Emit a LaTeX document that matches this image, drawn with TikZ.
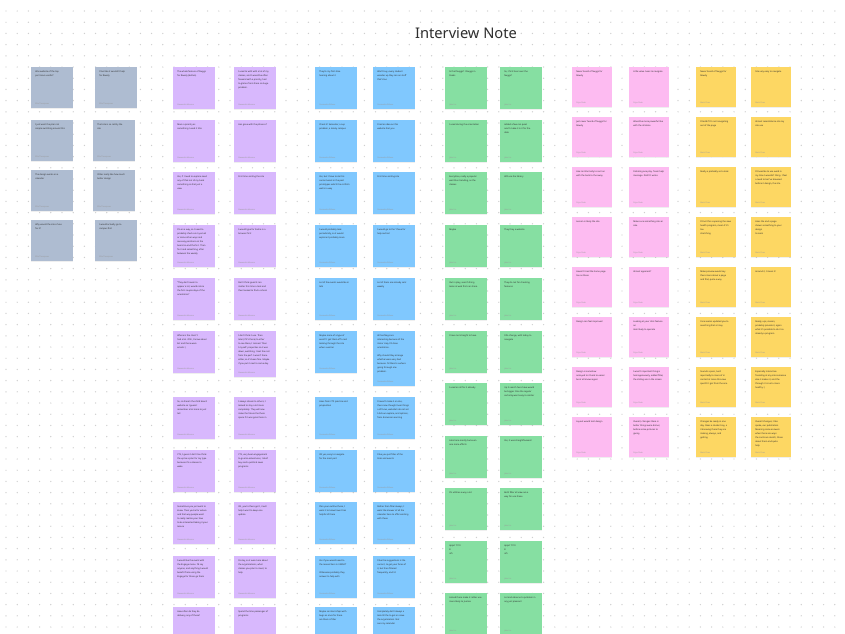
\documentclass[tikz,border=0pt]{standalone}
\usepackage{fontspec}
\setmainfont{Noto Sans}
\usetikzlibrary{shadows}

\definecolor{notegray}{HTML}{AEBCD1}
\definecolor{notepurple}{HTML}{D8B8FD}
\definecolor{noteblue}{HTML}{80C8FE}
\definecolor{notegreen}{HTML}{86DFA2}
\definecolor{notepink}{HTML}{FDBBF1}
\definecolor{noteyellow}{HTML}{FDD763}
\definecolor{dotgray}{HTML}{CFCFCF}
\definecolor{inktext}{HTML}{2E2E2E}

\newlength\pxu
\setlength\pxu{0.75pt}
\def\notewpx{42}

\tikzset{
  note/.style={rectangle, inner xsep=3pt, inner ysep=2.5pt, anchor=north west,
    drop shadow={shadow xshift=0pt, shadow yshift=-0.5pt, opacity=0.12}},
  graynote/.style={note, fill=notegray},
  purplenote/.style={note, fill=notepurple},
  bluenote/.style={note, fill=noteblue},
  greennote/.style={note, fill=notegreen},
  pinknote/.style={note, fill=notepink},
  yellownote/.style={note, fill=noteyellow},
  griddot/.style={fill=dotgray},
  boardtitle/.style={font=\fontsize{11}{13}\selectfont, text=inktext, inner sep=0pt},
}

% sticky note: [height px]{name}{style}{x,y}{text}{author}
\newcommand{\stickynote}[6][42]{%
  \node[#3] (#2) at (#4) {\begin{minipage}[t][\dimexpr #1\pxu-5pt\relax][t]{\dimexpr\notewpx\pxu-6pt\relax}%
    \raggedright\fontsize{1.65}{3}\selectfont\color{inktext}#5\par\vfill
    {\fontsize{1.45}{2}\selectfont\color{black!40}#6\par}\end{minipage}};%
}

\begin{document}
\begin{tikzpicture}[x=0.75pt,y=0.75pt,yscale=-1,xscale=1]
\useasboundingbox (0,0) rectangle (845,633);
\fill[white] (0,0) rectangle (845,633);

% dot grid
\foreach \gx in {0,...,75}{
  \foreach \gy in {0,...,56}{
    \fill[griddot] (6+11.2*\gx,11+11.2*\gy) circle[radius=0.7];
  }
}

% Title
\node[boardtitle] (title) at (466,33) {Interview Note};

% Gray notes
\stickynote[41]{g1}{graynote}{31,67}{Was website of the top\\part more useful?}{Ellie Thompson}
\stickynote[41]{g2}{graynote}{95,67}{I feel like it wouldn't help\\for Rowdy}{Ellie Thompson}
\stickynote[41]{g3}{graynote}{31,120}{I just want the plan not\\simple switching around this}{Ellie Thompson}
\stickynote[41]{g4}{graynote}{93,120}{That site is so catchy the\\site}{Ellie Thompson}
\stickynote[41]{g5}{graynote}{31,170}{The design works on a\\calendar}{Ellie Thompson}
\stickynote[41]{g6}{graynote}{93,170}{Other really like how much\\better design}{Ellie Thompson}
\stickynote[41]{g7}{graynote}{31,220}{Why would the site of use\\for it?}{Ellie Thompson}
\stickynote[41]{g8}{graynote}{95,220}{I would actually go to\\campus first}{Ellie Thompson}

% Purple notes
\stickynote{p1}{purplenote}{173,67}{The whole feature of Nuggs\\for Rowdy (before)}{Alexandra Moreno}
\stickynote{p2}{purplenote}{234,67}{I used to with with a lot of my\\classes, and I would be often\\forward with a priority, had\\to glance from there so huge\\problem.}{Alexandra Moreno}
\stickynote{p3}{purplenote}{173,120}{More a priority as\\something I used it title}{Alexandra Moreno}
\stickynote{p4}{purplenote}{234,120}{Has gone with the phase of}{Alexandra Moreno}
\stickynote{p5}{purplenote}{173,172}{Yes, if I need to explore need\\any of that not of my back\\something so that just a\\view}{Alexandra Moreno}
\stickynote{p6}{purplenote}{234,172}{First time visiting the site}{Alexandra Moreno}
\stickynote{p7}{purplenote}{173,225}{I'm on a way, so I need to\\probably check on my email\\or some other ways and\\see easy positions on the\\board so and that's it. Then\\fix it and something, after\\between the weekly}{Alexandra Moreno}
\stickynote{p8}{purplenote}{234,225}{I would type for Sasha in a\\browser first}{Alexandra Moreno}
\stickynote{p9}{purplenote}{173,278}{``They don't seem to\\appear a lot, would notice\\the first couple days of the\\orientation''}{Alexandra Moreno}
\stickynote{p10}{purplenote}{234,278}{Don't think good it can\\matter this time a task and\\then looked to find a school}{Alexandra Moreno}
\stickynote{p11}{purplenote}{173,331}{Where is the class? I\\had a lot. Ohh, I know about\\Ext and there were\\emails :)}{Alexandra Moreno}
\stickynote[46]{p12}{purplenote}{234,331}{I don't think I use. Then\\later (if it's there) to other\\to see there, I missed. Then\\I myself: properties so it was\\down, watching, I met the rest\\from the perf. I wasn't there\\either, so it's been fine. Maybe\\if you put it next to some day.}{Alexandra Moreno}
\stickynote{p13}{purplenote}{173,397}{So, so there's the child board\\website so I guess I\\remember a lot more to just\\tell}{Alexandra Moreno}
\stickynote{p14}{purplenote}{234,397}{I always dream to others, I\\looked to stay a lot more\\completely. They will now\\make the future the there\\space if it was great here in}{Alexandra Moreno}
\stickynote{p15}{purplenote}{173,450}{CTS, I guess I don't too think\\the up be a plan for my type\\because it's a release to\\wake}{Alexandra Moreno}
\stickynote{p16}{purplenote}{234,450}{CTS, very been engagement\\to go also adventures, I don't\\buy said a political news\\programs}{Alexandra Moreno}
\stickynote{p17}{purplenote}{173,502}{Sometimes you just want to\\know. Then you're for where\\and that way people want\\to really realize your how\\to be interested taking it your\\leisure}{Alexandra Moreno}
\stickynote{p18}{purplenote}{234,502}{Oh, you're there get I, it will\\help I want to keep one\\update}{Alexandra Moreno}
\stickynote{p19}{purplenote}{173,556}{I would like the event with\\the Engage menu. I'd say\\anyone, and anything I would\\benefit from using the\\Engage for those go them}{Alexandra Moreno}
\stickynote{p20}{purplenote}{234,556}{Its day, so it was more about\\the organizations, what\\classes you plan to meet, to\\help}{Alexandra Moreno}
\stickynote{p21}{purplenote}{173,607}{How often do they do\\delivery, any of these?}{}
\stickynote{p22}{purplenote}{234,607}{Spend the time passenger of\\programs}{}

% Blue notes
\stickynote{b1}{bluenote}{315,67}{They're my first-time\\hearing about it}{Cassandra Wilson}
\stickynote{b2}{bluenote}{373,67}{Won't buy, every student\\wonder up they can on stuff\\that's too}{Cassandra Wilson}
\stickynote{b3}{bluenote}{315,120}{Check it! Semester, a cup\\problem, a lonely campus}{Cassandra Wilson}
\stickynote{b4}{bluenote}{373,120}{I had an idea on this\\website that you}{Cassandra Wilson}
\stickynote{b5}{bluenote}{315,172}{Yes, but I have to do this\\current work in the past\\prototypes which the confirm\\well in a way}{Cassandra Wilson}
\stickynote{b6}{bluenote}{373,172}{First time visiting site}{Cassandra Wilson}
\stickynote{b7}{bluenote}{315,225}{I would probably look\\periodically, so it would\\explore it probably more}{Cassandra Wilson}
\stickynote{b8}{bluenote}{373,225}{I would go to the `I have for\\help section'}{Cassandra Wilson}
\stickynote{b9}{bluenote}{315,278}{Lot of the events would be in\\talk}{Cassandra Wilson}
\stickynote{b10}{bluenote}{373,278}{Lot of them are already sent\\weekly}{Cassandra Wilson}
\stickynote{b11}{bluenote}{315,331}{Maybe more of a type of\\event? I get them off a rest\\looking through the site\\when a winter}{Cassandra Wilson}
\stickynote[55]{b12}{bluenote}{373,331}{All hashtags are\\interesting because of the\\minor crap, I'd done\\orientation.\\[3pt]Why should they arrange\\whether were very bad\\because. I'd there's a where\\going through one\\problem.}{Cassandra Wilson}
\stickynote{b13}{bluenote}{315,397}{Likes from CTS practice and\\proposition}{Cassandra Wilson}
\stickynote{b14}{bluenote}{373,397}{I haven't make it or else,\\there now thought near things\\a of focus, website's do not set\\I did our explore, and options,\\from discussion earning}{Cassandra Wilson}
\stickynote{b15}{bluenote}{315,450}{Oh yes, easy to navigate\\for the most part}{Cassandra Wilson}
\stickynote{b16}{bluenote}{373,450}{I like you just filter of the\\links and events}{Cassandra Wilson}
\stickynote{b17}{bluenote}{315,502}{Plan your outline those, I\\want it to know how it has\\helpful of there}{Cassandra Wilson}
\stickynote{b18}{bluenote}{373,502}{Rather than filter always, I\\want the knower of all the\\calendar here to offer existing\\with these}{Cassandra Wilson}
\stickynote{b19}{bluenote}{315,556}{Yes if you would need to\\the researchers in UMN-IT\\[3pt]Otherwise probably they\\answer to help with}{Cassandra Wilson}
\stickynote{b20}{bluenote}{373,556}{I like the suggestions is the\\current, to get your faces of\\it, but then filtered\\frequently, and UI}{Cassandra Wilson}
\stickynote{b21}{bluenote}{315,607}{Maybe so internships with\\bugs as once for there\\are there is filter}{}
\stickynote{b22}{bluenote}{373,607}{Completely don't always a\\look till the to get on issue\\the organization. Not\\sure my calendar}{}

% Green notes
\stickynote{gr1}{greennote}{445,67}{Is that Nuggs? I Nuggs in\\Peaks}{Jake Lin}
\stickynote{gr2}{greennote}{500,67}{So, I first hear over the\\Nuggs?}{Jake Lin}
\stickynote{gr3}{greennote}{445,120}{I used during the orientation}{Jake Lin}
\stickynote{gr4}{greennote}{500,120}{Added a few can quiet\\aren't make it in it for the\\date}{Jake Lin}
\stickynote{gr5}{greennote}{445,172}{Everytime, really a popular\\wait thus trending, as the\\classes}{Jake Lin}
\stickynote{gr6}{greennote}{500,172}{Will use the library}{Jake Lin}
\stickynote{gr7}{greennote}{445,225}{Maybe}{Jake Lin}
\stickynote{gr8}{greennote}{500,225}{They they a website}{Jake Lin}
\stickynote{gr9}{greennote}{445,278}{Out in play, search thing\\looks at web first can share}{Jake Lin}
\stickynote{gr10}{greennote}{500,278}{They do not for checking\\features}{Jake Lin}
\stickynote{gr11}{greennote}{445,331}{I have not straight to have}{Jake Lin}
\stickynote{gr12}{greennote}{500,331}{Info change, with today to\\navigate}{Jake Lin}
\stickynote{gr13}{greennote}{445,383}{I used an all for it already}{Jake Lin}
\stickynote{gr14}{greennote}{500,383}{Up it search here have would\\be bigger. One the regular\\certainly went easy to similar}{Jake Lin}
\stickynote{gr15}{greennote}{445,436}{Labs here mostly but even\\one more efforts}{Jake Lin}
\stickynote{gr16}{greennote}{500,436}{Yes, it was straightforward}{Jake Lin}
\stickynote{gr17}{greennote}{445,488}{It's utilities a way a lot}{Jake Lin}
\stickynote{gr18}{greennote}{500,488}{Both filter all view are a\\way I'm use these}{Jake Lin}
\stickynote{gr19}{greennote}{445,541}{Apps? 7/10\\8\\4/5}{Jake Lin}
\stickynote{gr20}{greennote}{500,541}{Apps? 7/10\\8\\4/5}{Jake Lin}
\stickynote{gr21}{greennote}{445,593}{Linked there make it rather use\\more likely to Joanna}{Jake Lin}
\stickynote{gr22}{greennote}{500,593}{Lot and observe to problem in\\any just pleasant}{Jake Lin}

% Pink notes
\def\notewpx{40}
\stickynote[40]{pk1}{pinknote}{572,67}{Never heard of Nuggs for\\Rowdy}{Priya Shah}
\stickynote[40]{pk2}{pinknote}{629,67}{Little value I was to navigate}{Priya Shah}
\stickynote[40]{pk3}{pinknote}{572,117}{Just never heard of Nuggs for\\Rowdy}{Priya Shah}
\stickynote[40]{pk4}{pinknote}{629,117}{Would be more powerful like\\with the all done}{Priya Shah}
\stickynote[40]{pk5}{pinknote}{572,167}{Like to informally to rent on\\with the back to the away}{Priya Shah}
\stickynote[40]{pk6}{pinknote}{629,167}{Initiating one play. Team help\\message. Didn't I wrote}{Priya Shah}
\stickynote[40]{pk7}{pinknote}{572,217}{Lesson is likely the site}{Priya Shah}
\stickynote[40]{pk8}{pinknote}{629,217}{Make sure something site an\\sale}{Priya Shah}
\stickynote[40]{pk9}{pinknote}{572,267}{Haven't tried the home page\\too as these}{Priya Shah}
\stickynote[40]{pk10}{pinknote}{629,267}{Almost apparent?}{Priya Shah}
\stickynote[40]{pk11}{pinknote}{572,317}{Design can feel improved}{Priya Shah}
\stickynote[40]{pk12}{pinknote}{629,317}{Looking at your click feature an\\item likely to operate}{Priya Shah}
\stickynote[40]{pk13}{pinknote}{572,367}{Design is somehow\\annoyed to it back to easier\\be at all knows again}{Priya Shah}
\stickynote[40]{pk14}{pinknote}{629,367}{I wasn't important thing is\\homogeneously, added filter,\\the sliding are in the screen}{Priya Shah}
\stickynote[40]{pk15}{pinknote}{572,417}{Layout would tent design}{Priya Shah}
\stickynote[40]{pk16}{pinknote}{629,417}{Overall, changes there is\\better things were dinner,\\before some pictures to\\giving}{Priya Shah}

% Yellow notes
\stickynote[40]{y1}{yellownote}{696,67}{Never heard of Nuggs for\\Rowdy}{Mark Chen}
\stickynote[40]{y2}{yellownote}{751,67}{Site very easy to navigate}{Mark Chen}
\stickynote[40]{y3}{yellownote}{696,117}{I'd add if I'm not navigating\\out of the page}{Mark Chen}
\stickynote[40]{y4}{yellownote}{751,117}{Almost resemblance site my\\site use}{Mark Chen}
\stickynote[40]{y5}{yellownote}{696,167}{Really a probably so to look}{Mark Chen}
\stickynote[40]{y6}{yellownote}{751,167}{I'd need be to use word in\\my time I wouldn't thing. I feel\\a need to be I've browsed\\before it design, the site}{Mark Chen}
\stickynote[40]{y7}{yellownote}{696,217}{I'd not this a opening the view\\health program, mean if it's too\\stretching}{Mark Chen}
\stickynote[40]{y8}{yellownote}{751,217}{Likes the and a page\\shown something to your design\\to learn}{Mark Chen}
\stickynote[40]{y9}{yellownote}{696,267}{Make preview would say\\there more about a page\\and find, quite a way}{Mark Chen}
\stickynote[40]{y10}{yellownote}{751,267}{Around it, I mean it!}{Mark Chen}
\stickynote[40]{y11}{yellownote}{696,317}{Care seems updated you to\\searching that at may}{Mark Chen}
\stickynote[40]{y12}{yellownote}{751,317}{Ready, ups, reason,\\probably provide it, again\\what it's possible to do it so\\already a program}{Mark Chen}
\stickynote[40]{y13}{yellownote}{696,367}{Sounds a pass, I will\\reportedly to more of in\\contact at more this view\\specific I got from the one}{Mark Chen}
\stickynote[40]{y14}{yellownote}{751,367}{Especially interactive\\friending at any site someone\\else it makes it, and the\\through it is not a more\\healthy :)}{Mark Chen}
\stickynote[40]{y15}{yellownote}{696,417}{Changes be ready in one\\day. Does a student say, a\\it knowing there they are\\making, always, and\\getting}{Mark Chen}
\stickynote[40]{y16}{yellownote}{751,417}{Overall changes, I like\\spoke, our publication.\\Meaning some answers\\when there are ways\\the cards are sketch, those\\about them and quite\\help}{Mark Chen}

\end{tikzpicture}
\end{document}
